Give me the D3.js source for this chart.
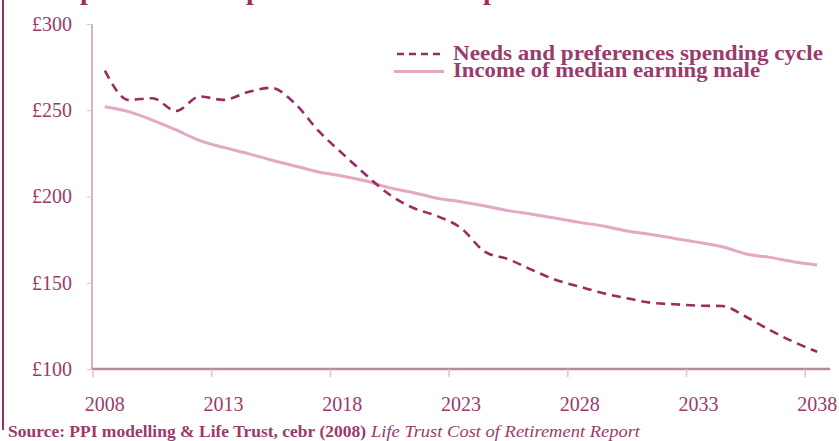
<!DOCTYPE html>
<html><head><meta charset="utf-8">
<script src="https://cdn.jsdelivr.net/npm/d3@7"></script>
<style>body{margin:0;background:#fff}svg{display:block}</style>
</head><body>
<svg id="c" width="839" height="441"></svg>
<script>
const years = d3.range(2008, 2039);
const needsSpending = [273, 256, 257, 249.6, 258, 256, 260.4, 263, 254, 238, 225, 212.5, 201, 193.3, 188.6, 181.7, 168, 163.6, 157.4, 151.6, 147.7, 143.9, 141, 138.4, 137.5, 136.7, 136.5, 130.3, 122.6, 115.8, 110];
const medianIncome = [252, 249.2, 244.3, 238.6, 232.4, 228.5, 225, 221.2, 217.7, 214.2, 211.9, 209, 205, 202.2, 199, 197, 194.5, 191.8, 189.7, 187.4, 185, 182.9, 180, 178, 175.7, 173.4, 170.9, 166.7, 164.7, 162.2, 160.3];
const yTicks = [100, 150, 200, 250, 300];
const xTickYears = [2008, 2013, 2018, 2023, 2028, 2033, 2038];
const seriesNames = ["Needs and preferences spending cycle", "Income of median earning male"];

const svg = d3.select("#c");
const textCol = "#9b3a6b";
const font = "'Liberation Serif', 'Times New Roman', serif";

const x = d3.scaleBand().domain(years).range([93, 829]).padding(0);
const bw = x.bandwidth();
const cx = yr => x(yr) + bw / 2;
const y = d3.scaleLinear().domain([100, 300]).range([369, 24]);

// left border
svg.append("line").attr("x1", 3).attr("x2", 3).attr("y1", 0).attr("y2", 430)
  .attr("stroke", "#9b2c62").attr("stroke-width", 2);

// title fragments (cut off at top)
svg.append("text").attr("y", -1).attr("font-family", font).attr("font-weight", "bold")
  .attr("font-size", 28).attr("fill", "#9b2c62")
  .selectAll("tspan").data([80, 246, 483]).join("tspan").attr("x", d => d).text("p");

// y axis
const yAxis = svg.append("g").attr("transform", "translate(92,0)")
  .call(d3.axisLeft(y).tickValues(yTicks).tickFormat(d => "£" + d).tickSize(5).tickPadding(15));
yAxis.select(".domain").attr("stroke", "#c29db2").attr("stroke-width", 1.5).attr("d", `M0,${y(300)}V${y(100)}`);
yAxis.selectAll(".tick line").attr("stroke", "#d9c3cf");
yAxis.selectAll(".tick text").attr("font-family", font).attr("font-size", 20).attr("fill", textCol);

// x axis
const xAxis = svg.append("g").attr("transform", `translate(0,${y(100)})`)
  .call(d3.axisBottom(x).tickValues(xTickYears).tickSize(8).tickPadding(20));
xAxis.select(".domain").attr("stroke", "#b8899f").attr("stroke-width", 2.5).attr("d", "M92,0H830");
xAxis.selectAll(".tick line").attr("stroke", "#d9c3cf").attr("stroke-width", 1.5).attr("x1", -bw / 2).attr("x2", -bw / 2);
xAxis.selectAll(".tick text").attr("font-family", font).attr("font-size", 20).attr("fill", textCol);

// lines
const line = d3.line().x((d, i) => cx(years[i])).y(d => y(d)).curve(d3.curveMonotoneX);
svg.append("path").datum(medianIncome).attr("d", line).attr("fill", "none")
  .attr("stroke", "#e4a7c5").attr("stroke-width", 3);
svg.append("path").datum(needsSpending).attr("d", line).attr("fill", "none")
  .attr("stroke", "#9b2c62").attr("stroke-width", 2.6).attr("stroke-dasharray", "9,6");

// legend
const lg = svg.append("g");
lg.append("line").attr("x1", 397).attr("x2", 442).attr("y1", 54).attr("y2", 54)
  .attr("stroke", "#9b2c62").attr("stroke-width", 2.6).attr("stroke-dasharray", "7,5");
lg.append("line").attr("x1", 394).attr("x2", 444).attr("y1", 71.5).attr("y2", 71.5)
  .attr("stroke", "#e4a7c5").attr("stroke-width", 3);
lg.selectAll("text").data(seriesNames).join("text")
  .attr("x", 453).attr("y", (d, i) => 59.5 + i * 17.3)
  .attr("font-family", font).attr("font-weight", "bold").attr("font-size", 21)
  .attr("fill", textCol).attr("textLength", (d, i) => i === 0 ? 370 : 307).attr("lengthAdjust", "spacingAndGlyphs")
  .text(d => d);

// source
svg.append("text").attr("x", 8).attr("y", 437).attr("font-family", font)
  .attr("font-size", 17).attr("font-weight", "bold").attr("fill", textCol)
  .attr("textLength", 358).attr("lengthAdjust", "spacingAndGlyphs")
  .text("Source: PPI modelling & Life Trust, cebr (2008)");
svg.append("text").attr("x", 371).attr("y", 437).attr("font-family", font)
  .attr("font-size", 17).attr("font-style", "italic").attr("fill", textCol)
  .attr("textLength", 269).attr("lengthAdjust", "spacingAndGlyphs")
  .text("Life Trust Cost of Retirement Report");
</script>
</body></html>
